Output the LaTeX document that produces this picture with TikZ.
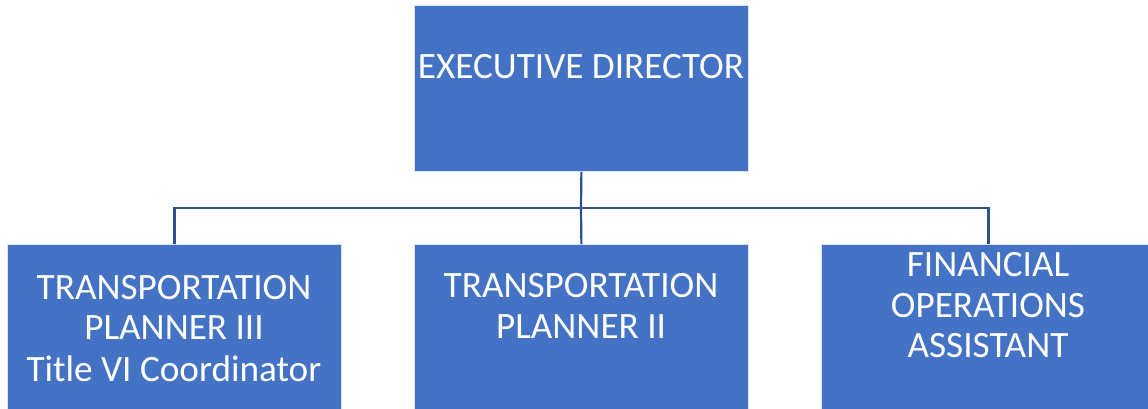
\documentclass[tikz,border=0pt]{standalone}
\usepackage{fontspec}
\setmainfont{Carlito}
\definecolor{boxfill}{HTML}{4472C4}
\definecolor{conn}{HTML}{2F528F}
\begin{document}
\begin{tikzpicture}[x=1pt,y=-1pt,
  orgbox/.style={draw=white!80!boxfill, line width=0.8pt, fill=boxfill, minimum width=334pt, minimum height=166pt, inner sep=0pt, anchor=north west},
  lbl/.style={text=white, font=\fontsize{37.2}{41}\selectfont, anchor=base, inner sep=0pt},
  link/.style={draw=conn, line width=2.2pt}]
\useasboundingbox (0,0) rectangle (1148,408);
\clip (0,0) rectangle (1148,408);
\fill[white] (0,0) rectangle (1148,408);
\node[orgbox] (ed) at (414,5) {};
\node[orgbox] (b1) at (7,244) {};
\node[orgbox] (b2) at (414,244) {};
\node[orgbox] (b3) at (821,244) {};
\coordinate (j) at (581,208);
\draw[link] (ed.south) -- (j);
\draw[link] (j) -- (b2.north);
\draw[link] (j) -| (b1.north);
\draw[link] (j) -| (b3.north);
\node[lbl] (t0) at (581,78) {EXECUTIVE DIRECTOR};
\node[lbl] (t1a) at (174,299) {TRANSPORTATION};
\node[lbl] (t1b) at (174,339) {PLANNER III};
\node[lbl] (t1c) at (174,381) {Title VI Coordinator};
\node[lbl] (t2a) at (581,297) {TRANSPORTATION};
\node[lbl] (t2b) at (581,338) {PLANNER II};
\node[lbl] (t3a) at (988,276) {FINANCIAL};
\node[lbl] (t3b) at (988,317) {OPERATIONS};
\node[lbl] (t3c) at (988,357) {ASSISTANT};
\end{tikzpicture}
\end{document}
